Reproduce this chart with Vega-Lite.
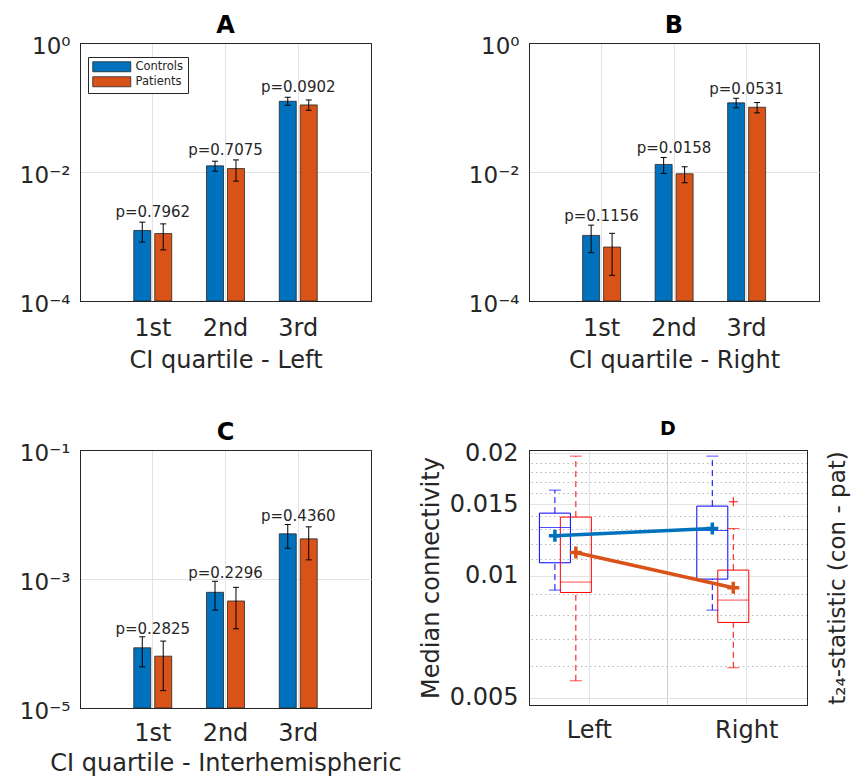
{
  "$schema": "https://vega.github.io/schema/vega-lite/v6.json",
  "padding": {"left": 12, "top": 13, "right": 5, "bottom": 5},
  "background": "white",
  "config": {
    "font": "DejaVu Sans",
    "view": {"stroke": "#262626", "strokeWidth": 1},
    "axis": {
      "labelFont": "DejaVu Sans", "titleFont": "DejaVu Sans",
      "labelColor": "#262626", "titleColor": "#262626",
      "domain": true, "domainColor": "#262626", "domainWidth": 1, "ticks": false,
      "gridColor": "#e3e3e3", "gridWidth": 1,
      "labelFontSize": 24, "titleFontSize": 24, "titleFontWeight": "normal",
      "labelFlush": false, "labelOverlap": false, "labelBound": false
    },
    "title": {"font": "DejaVu Sans", "fontSize": 24, "fontWeight": "bold", "color": "#000000", "offset": -3},
    "text": {"font": "DejaVu Sans"}
  },
  "datasets": {
    "bars": [
      {"panel": "A", "quartile": "1st", "group": "Controls", "mean": 0.00124, "lo": 0.00082, "hi": 0.00167, "p": "p=0.7962"},
      {"panel": "A", "quartile": "1st", "group": "Patients", "mean": 0.00111, "lo": 0.00062, "hi": 0.00157, "p": "p=0.7962"},
      {"panel": "A", "quartile": "2nd", "group": "Controls", "mean": 0.01245, "lo": 0.0103, "hi": 0.0147, "p": "p=0.7075"},
      {"panel": "A", "quartile": "2nd", "group": "Patients", "mean": 0.0113, "lo": 0.00721, "hi": 0.0154, "p": "p=0.7075"},
      {"panel": "A", "quartile": "3rd", "group": "Controls", "mean": 0.125, "lo": 0.1084, "hi": 0.1442, "p": "p=0.0902"},
      {"panel": "A", "quartile": "3rd", "group": "Patients", "mean": 0.1096, "lo": 0.0906, "hi": 0.1309, "p": "p=0.0902"},
      {"panel": "B", "quartile": "1st", "group": "Controls", "mean": 0.00104, "lo": 0.000561, "hi": 0.0015, "p": "p=0.1156"},
      {"panel": "B", "quartile": "1st", "group": "Patients", "mean": 0.000686, "lo": 0.00025, "hi": 0.00112, "p": "p=0.1156"},
      {"panel": "B", "quartile": "2nd", "group": "Controls", "mean": 0.0131, "lo": 0.0095, "hi": 0.0168, "p": "p=0.0158"},
      {"panel": "B", "quartile": "2nd", "group": "Patients", "mean": 0.00938, "lo": 0.00681, "hi": 0.01205, "p": "p=0.0158"},
      {"panel": "B", "quartile": "3rd", "group": "Controls", "mean": 0.118, "lo": 0.0988, "hi": 0.139, "p": "p=0.0531"},
      {"panel": "B", "quartile": "3rd", "group": "Patients", "mean": 0.1009, "lo": 0.0826, "hi": 0.1194, "p": "p=0.0531"},
      {"panel": "C", "quartile": "1st", "group": "Controls", "mean": 0.0000857, "lo": 0.0000434, "hi": 0.000127, "p": "p=0.2825"},
      {"panel": "C", "quartile": "1st", "group": "Patients", "mean": 0.0000636, "lo": 0.0000186, "hi": 0.000109, "p": "p=0.2825"},
      {"panel": "C", "quartile": "2nd", "group": "Controls", "mean": 0.000622, "lo": 0.00033, "hi": 0.000922, "p": "p=0.2296"},
      {"panel": "C", "quartile": "2nd", "group": "Patients", "mean": 0.000456, "lo": 0.000169, "hi": 0.000743, "p": "p=0.2296"},
      {"panel": "C", "quartile": "3rd", "group": "Controls", "mean": 0.00501, "lo": 0.003, "hi": 0.007, "p": "p=0.4360"},
      {"panel": "C", "quartile": "3rd", "group": "Patients", "mean": 0.00419, "lo": 0.00198, "hi": 0.00644, "p": "p=0.4360"}
    ],
    "box": [
      {"side": "Left", "group": "Controls", "lower": 0.009214, "q1": 0.010757, "median": 0.013141, "q3": 0.014258, "upper": 0.016245, "mean": 0.012535},
      {"side": "Left", "group": "Patients", "lower": 0.005507, "q1": 0.009089, "median": 0.009641, "q3": 0.013941, "upper": 0.019705, "mean": 0.011403},
      {"side": "Right", "group": "Controls", "lower": 0.008225, "q1": 0.009806, "median": 0.01292, "q3": 0.014838, "upper": 0.019705, "mean": 0.013065},
      {"side": "Right", "group": "Patients", "lower": 0.005929, "q1": 0.007668, "median": 0.008706, "q3": 0.01032, "upper": 0.013065, "mean": 0.009335}
    ],
    "outliers": [
      {"side": "Right", "group": "Patients", "value": 0.015205}
    ]
  },
  "resolve": {"scale": {"color": "independent"}, "legend": {"color": "independent"}},
  "spacing": 46,
  "vconcat": [
    {
      "spacing": 95,
      "resolve": {"scale": {"color": "independent"}, "legend": {"color": "independent"}},
      "hconcat": [
        {
          "width": 291, "height": 258,
          "title": {"text": "A"},
          "data": {"name": "bars"},
          "transform": [{"filter": "datum.panel == 'A'"}],
          "encoding": {
            "x": {"field": "quartile", "type": "nominal", "scale": {"domain": ["1st", "2nd", "3rd"], "paddingInner": 0, "paddingOuter": 0.5},
                  "axis": {"title": "CI quartile - Left", "labelAngle": 0, "grid": true, "bandPosition": 0.5, "labelPadding": 15, "titlePadding": 8}}
          },
          "layer": [
            {
              "mark": {"type": "bar", "stroke": "#262626", "strokeWidth": 0.8},
              "encoding": {
                "xOffset": {"field": "group", "type": "nominal", "scale": {"domain": ["Controls", "Patients"], "paddingInner": 0.19, "paddingOuter": 0.83}},
                "y": {"field": "mean", "type": "quantitative", "title": null,
                      "scale": {"type": "log", "domain": [0.0001, 1], "nice": false},
                      "axis": {"values": [0.0001, 0.01, 1], "grid": true, "labelFontSize": 23, "labelPadding": 10, "labelOffset": 3, "minExtent": 61,
                               "gridColor": {"condition": {"test": "datum.value >= 0.5 || datum.value <= 0.0002", "value": "#262626"}, "value": "#e3e3e3"},
                               "labelExpr": "datum.value >= 0.5 ? '10⁰' : datum.value >= 0.005 ? '10⁻²' : '10⁻⁴'"}},
                "y2": {"datum": 0.0001},
                "color": {"field": "group", "type": "nominal", "scale": {"domain": ["Controls", "Patients"], "range": ["#0072BD", "#D95319"]},
                          "legend": {"title": null, "orient": "none", "legendX": 8, "legendY": 14,
                                     "symbolType": "M-3.8,-1H3.8V1H-3.8Z", "symbolSize": 100, "symbolOffset": 14,
                                     "symbolStrokeColor": "#262626", "symbolStrokeWidth": 0.8,
                                     "labelFontSize": 11.5, "labelColor": "#262626", "labelFont": "DejaVu Sans", "labelOffset": 18,
                                     "strokeColor": "#262626", "fillColor": "white", "padding": 4, "rowPadding": 1}}
              }
            },
            {
              "mark": {"type": "rule", "color": "#000000", "strokeWidth": 1},
              "encoding": {
                "xOffset": {"field": "group", "type": "nominal"},
                "y": {"field": "lo", "type": "quantitative", "title": null},
                "y2": {"field": "hi"}
              }
            },
            {
              "mark": {"type": "tick", "color": "#000000", "size": 6, "thickness": 1, "opacity": 1},
              "encoding": {
                "xOffset": {"field": "group", "type": "nominal"},
                "y": {"field": "lo", "type": "quantitative", "title": null}
              }
            },
            {
              "mark": {"type": "tick", "color": "#000000", "size": 6, "thickness": 1, "opacity": 1},
              "encoding": {
                "xOffset": {"field": "group", "type": "nominal"},
                "y": {"field": "hi", "type": "quantitative", "title": null}
              }
            },
            {
              "transform": [{"aggregate": [{"op": "max", "field": "hi", "as": "top"}], "groupby": ["quartile", "p"]}],
              "mark": {"type": "text", "fontSize": 15, "baseline": "middle", "dy": -10, "color": "#262626"},
              "encoding": {
                "y": {"field": "top", "type": "quantitative", "title": null},
                "text": {"field": "p"}
              }
            }
          ]
        },
        {
          "width": 290, "height": 258,
          "title": {"text": "B"},
          "data": {"name": "bars"},
          "transform": [{"filter": "datum.panel == 'B'"}],
          "encoding": {
            "x": {"field": "quartile", "type": "nominal", "scale": {"domain": ["1st", "2nd", "3rd"], "paddingInner": 0, "paddingOuter": 0.5},
                  "axis": {"title": "CI quartile - Right", "labelAngle": 0, "grid": true, "bandPosition": 0.5, "labelPadding": 15, "titlePadding": 8}}
          },
          "layer": [
            {
              "mark": {"type": "bar", "stroke": "#262626", "strokeWidth": 0.8},
              "encoding": {
                "xOffset": {"field": "group", "type": "nominal", "scale": {"domain": ["Controls", "Patients"], "paddingInner": 0.19, "paddingOuter": 0.83}},
                "y": {"field": "mean", "type": "quantitative", "title": null,
                      "scale": {"type": "log", "domain": [0.0001, 1], "nice": false},
                      "axis": {"values": [0.0001, 0.01, 1], "grid": true, "labelFontSize": 23, "labelPadding": 10, "labelOffset": 3, "minExtent": 61,
                               "gridColor": {"condition": {"test": "datum.value >= 0.5 || datum.value <= 0.0002", "value": "#262626"}, "value": "#e3e3e3"},
                               "labelExpr": "datum.value >= 0.5 ? '10⁰' : datum.value >= 0.005 ? '10⁻²' : '10⁻⁴'"}},
                "y2": {"datum": 0.0001},
                "color": {"field": "group", "type": "nominal", "scale": {"domain": ["Controls", "Patients"], "range": ["#0072BD", "#D95319"]}, "legend": null}
              }
            },
            {
              "mark": {"type": "rule", "color": "#000000", "strokeWidth": 1},
              "encoding": {
                "xOffset": {"field": "group", "type": "nominal"},
                "y": {"field": "lo", "type": "quantitative", "title": null},
                "y2": {"field": "hi"}
              }
            },
            {
              "mark": {"type": "tick", "color": "#000000", "size": 6, "thickness": 1, "opacity": 1},
              "encoding": {
                "xOffset": {"field": "group", "type": "nominal"},
                "y": {"field": "lo", "type": "quantitative", "title": null}
              }
            },
            {
              "mark": {"type": "tick", "color": "#000000", "size": 6, "thickness": 1, "opacity": 1},
              "encoding": {
                "xOffset": {"field": "group", "type": "nominal"},
                "y": {"field": "hi", "type": "quantitative", "title": null}
              }
            },
            {
              "transform": [{"aggregate": [{"op": "max", "field": "hi", "as": "top"}], "groupby": ["quartile", "p"]}],
              "mark": {"type": "text", "fontSize": 15, "baseline": "middle", "dy": -9, "color": "#262626"},
              "encoding": {
                "y": {"field": "top", "type": "quantitative", "title": null},
                "text": {"field": "p"}
              }
            }
          ]
        }
      ]
    },
    {
      "spacing": 16,
      "resolve": {"scale": {"color": "independent"}, "legend": {"color": "independent"}},
      "hconcat": [
        {
          "width": 291, "height": 258,
          "title": {"text": "C"},
          "data": {"name": "bars"},
          "transform": [{"filter": "datum.panel == 'C'"}],
          "encoding": {
            "x": {"field": "quartile", "type": "nominal", "scale": {"domain": ["1st", "2nd", "3rd"], "paddingInner": 0, "paddingOuter": 0.5},
                  "axis": {"title": "CI quartile - Interhemispheric", "labelAngle": 0, "grid": true, "bandPosition": 0.5, "labelPadding": 13, "titlePadding": 6}}
          },
          "layer": [
            {
              "mark": {"type": "bar", "stroke": "#262626", "strokeWidth": 0.8},
              "encoding": {
                "xOffset": {"field": "group", "type": "nominal", "scale": {"domain": ["Controls", "Patients"], "paddingInner": 0.19, "paddingOuter": 0.83}},
                "y": {"field": "mean", "type": "quantitative", "title": null,
                      "scale": {"type": "log", "domain": [0.00001, 0.1], "nice": false},
                      "axis": {"values": [0.00001, 0.001, 0.1], "grid": true, "labelFontSize": 23, "labelPadding": 10, "labelOffset": 3, "minExtent": 67,
                               "gridColor": {"condition": {"test": "datum.value >= 0.05 || datum.value <= 0.00002", "value": "#262626"}, "value": "#e3e3e3"},
                               "labelExpr": "datum.value >= 0.05 ? '10⁻¹' : datum.value >= 0.0005 ? '10⁻³' : '10⁻⁵'"}},
                "y2": {"datum": 0.00001},
                "color": {"field": "group", "type": "nominal", "scale": {"domain": ["Controls", "Patients"], "range": ["#0072BD", "#D95319"]}, "legend": null}
              }
            },
            {
              "mark": {"type": "rule", "color": "#000000", "strokeWidth": 1},
              "encoding": {
                "xOffset": {"field": "group", "type": "nominal"},
                "y": {"field": "lo", "type": "quantitative", "title": null},
                "y2": {"field": "hi"}
              }
            },
            {
              "mark": {"type": "tick", "color": "#000000", "size": 6, "thickness": 1, "opacity": 1},
              "encoding": {
                "xOffset": {"field": "group", "type": "nominal"},
                "y": {"field": "lo", "type": "quantitative", "title": null}
              }
            },
            {
              "mark": {"type": "tick", "color": "#000000", "size": 6, "thickness": 1, "opacity": 1},
              "encoding": {
                "xOffset": {"field": "group", "type": "nominal"},
                "y": {"field": "hi", "type": "quantitative", "title": null}
              }
            },
            {
              "transform": [{"aggregate": [{"op": "max", "field": "hi", "as": "top"}], "groupby": ["quartile", "p"]}],
              "mark": {"type": "text", "fontSize": 15, "baseline": "middle", "dy": -8, "color": "#262626"},
              "encoding": {
                "y": {"field": "top", "type": "quantitative", "title": null},
                "text": {"field": "p"}
              }
            }
          ]
        },
        {
          "width": 278, "height": 255,
          "title": {"text": "D", "fontSize": 19, "offset": 2},
          "data": {"name": "box"},
          "encoding": {
            "x": {"field": "side", "type": "nominal", "scale": {"domain": ["Left", "Right"], "paddingInner": 0.234, "paddingOuter": 0}}
          },
          "layer": [
            {
              "mark": {"type": "bar", "filled": false, "width": 31, "strokeWidth": 1},
              "encoding": {
                "x": {"field": "side", "type": "nominal", "axis": {"title": null, "orient": "bottom", "labelAngle": 0, "grid": true, "bandPosition": 0.5, "labelPadding": 13}},
                "xOffset": {"field": "group", "type": "nominal", "scale": {"domain": ["Controls", "Patients"], "paddingInner": 0, "paddingOuter": 0}},
                "y": {"field": "q1", "type": "quantitative",
                      "scale": {"type": "log", "domain": [0.0048, 0.0204], "nice": false},
                      "axis": {"title": "Median connectivity", "orient": "left", "values": [0.005, 0.01, 0.015, 0.02], "format": "~g", "grid": true, "labelPadding": 11, "titlePadding": 6}},
                "y2": {"field": "q3"},
                "color": {"field": "group", "type": "nominal", "scale": {"domain": ["Controls", "Patients"], "range": ["#0000ff", "#ff0000"]}, "legend": null}
              }
            },
            {
              "mark": {"type": "tick", "size": 31, "thickness": 1},
              "encoding": {
                "x": {"field": "side", "type": "nominal", "axis": {"title": null, "orient": "top", "labels": false, "grid": true, "values": ["Left"], "bandPosition": 1.1526, "gridColor": "#cfcfcf"}},
                "xOffset": {"field": "group", "type": "nominal"},
                "y": {"field": "median", "type": "quantitative",
                      "axis": {"title": "t₂₄-statistic (con - pat)", "orient": "right", "labels": false, "grid": true,
                               "values": [0.006, 0.007, 0.008, 0.009, 0.011, 0.012, 0.013, 0.014, 0.016, 0.017, 0.018, 0.019],
                               "gridDash": [1.5, 3], "gridColor": "#b8b8b8", "titleAngle": -90, "titleBaseline": "top", "titlePadding": 19, "titleFontSize": 23}},
                "color": {"field": "group", "type": "nominal", "legend": null}
              }
            },
            {
              "mark": {"type": "rule", "strokeDash": [6, 4], "strokeWidth": 1},
              "encoding": {
                "x": {"field": "side", "type": "nominal", "axis": null},
                "xOffset": {"field": "group", "type": "nominal"},
                "y": {"field": "q3", "type": "quantitative", "axis": null},
                "y2": {"field": "upper"},
                "color": {"field": "group", "type": "nominal", "legend": null}
              }
            },
            {
              "mark": {"type": "rule", "strokeDash": [6, 4], "strokeWidth": 1},
              "encoding": {
                "x": {"field": "side", "type": "nominal", "axis": null},
                "xOffset": {"field": "group", "type": "nominal"},
                "y": {"field": "lower", "type": "quantitative", "axis": null},
                "y2": {"field": "q1"},
                "color": {"field": "group", "type": "nominal", "legend": null}
              }
            },
            {
              "mark": {"type": "tick", "size": 12, "thickness": 1},
              "encoding": {
                "x": {"field": "side", "type": "nominal", "axis": null},
                "xOffset": {"field": "group", "type": "nominal"},
                "y": {"field": "upper", "type": "quantitative", "axis": null},
                "color": {"field": "group", "type": "nominal", "legend": null}
              }
            },
            {
              "mark": {"type": "tick", "size": 12, "thickness": 1},
              "encoding": {
                "x": {"field": "side", "type": "nominal", "axis": null},
                "xOffset": {"field": "group", "type": "nominal"},
                "y": {"field": "lower", "type": "quantitative", "axis": null},
                "color": {"field": "group", "type": "nominal", "legend": null}
              }
            },
            {
              "data": {"name": "outliers"},
              "mark": {"type": "point", "shape": "M-1,0H1M0,-1V1", "size": 81, "filled": false, "strokeWidth": 1, "opacity": 1},
              "encoding": {
                "x": {"field": "side", "type": "nominal", "axis": null},
                "xOffset": {"field": "group", "type": "nominal"},
                "y": {"field": "value", "type": "quantitative", "axis": null},
                "color": {"field": "group", "type": "nominal", "legend": null}
              }
            },
            {
              "mark": {"type": "line", "strokeWidth": 3.5},
              "encoding": {
                "x": {"field": "side", "type": "nominal", "axis": null},
                "xOffset": {"field": "group", "type": "nominal"},
                "y": {"field": "mean", "type": "quantitative", "axis": null},
                "stroke": {"field": "group", "type": "nominal", "scale": {"domain": ["Controls", "Patients"], "range": ["#0072BD", "#D95319"]}, "legend": null}
              }
            },
            {
              "mark": {"type": "point", "shape": "M-1,0H1M0,-1V1", "size": 144, "filled": false, "strokeWidth": 3.5, "opacity": 1},
              "encoding": {
                "x": {"field": "side", "type": "nominal", "axis": null},
                "xOffset": {"field": "group", "type": "nominal"},
                "y": {"field": "mean", "type": "quantitative", "axis": null},
                "stroke": {"field": "group", "type": "nominal", "legend": null}
              }
            }
          ],
          "resolve": {"axis": {"x": "independent", "y": "independent"}}
        }
      ]
    }
  ]
}
